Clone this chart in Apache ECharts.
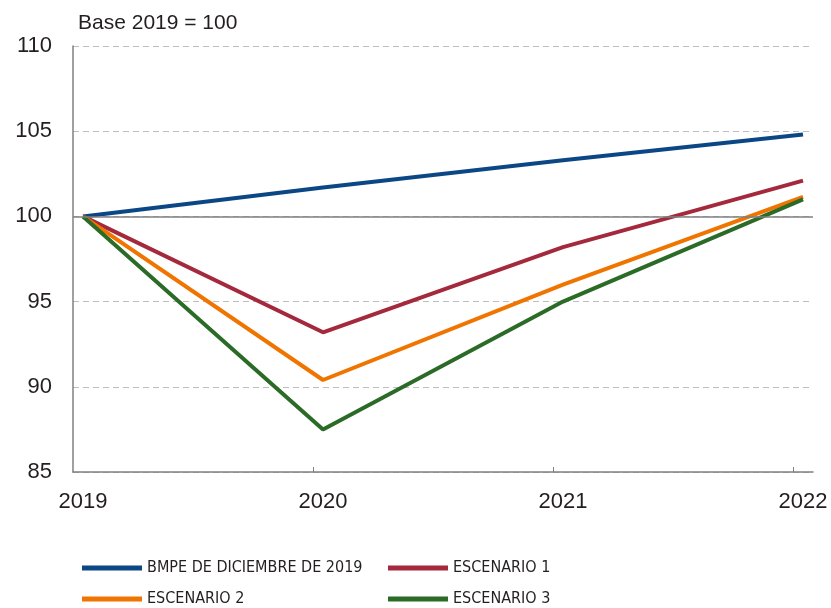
<!DOCTYPE html>
<html>
<head>
<meta charset="utf-8">
<script src="https://cdn.jsdelivr.net/npm/echarts@6/dist/echarts.min.js"></script>
<style>
  html, body { margin: 0; padding: 0; background: #fff; }
  #chart { width: 831px; height: 608px; }
</style>
</head>
<body>
<div id="chart"></div>
<script>
// datos (índice, base 2019 = 100)
const years = [2019, 2020, 2021, 2022];
const yTicks = [85, 90, 95, 100, 105, 110];
const bmpe = [100, 101.7, 103.3, 104.8];
const esc1 = [100, 93.2, 98.2, 102.1];
const esc2 = [100, 90.4, 96.0, 101.15];
const esc3 = [100, 87.5, 95.0, 101.0];

const names = ['BMPE DE DICIEMBRE DE 2019', 'ESCENARIO 1', 'ESCENARIO 2', 'ESCENARIO 3'];
const colors = ['#0b4785', '#a5293c', '#f07400', '#2b6b27'];

const textColor = '#231f20';
const axisGray = '#808080';
const legendFont = "'DejaVu Sans Condensed', 'Liberation Sans', sans-serif";

function pairs(vals) {
  return years.map((y, i) => [y, vals[i]]);
}

let myChart = echarts.init(document.getElementById('chart'));

// los ticks del eje x están desplazados ~10px a la izquierda de los años
let pad = 10 / 240;

function legendCol(left, data) {
  return {
    orient: 'vertical',
    left: left,
    top: 560,
    padding: 0,
    itemGap: 15,
    itemWidth: 60,
    itemHeight: 5,
    icon: 'rect',
    data: data,
    textStyle: {
      fontFamily: legendFont,
      fontSize: 16,
      lineHeight: 16,
      color: textColor
    }
  };
}

let option = {
  animation: false,
  backgroundColor: '#fff',
  title: {
    text: 'Base 2019 = 100',
    left: 73,
    top: 8,
    textStyle: {
      fontFamily: 'Liberation Sans',
      fontWeight: 'normal',
      fontSize: 21,
      color: textColor
    }
  },
  grid: {
    left: 73,
    right: 18,
    top: 46,
    bottom: 136
  },
  legend: [
    legendCol(82, [names[0], names[2]]),
    legendCol(388, [names[1], names[3]])
  ],
  xAxis: {
    type: 'value',
    min: years[0] - pad,
    max: years[years.length - 1] + pad,
    axisLine: {
      show: true,
      lineStyle: { color: axisGray, width: 1.5 }
    },
    axisTick: {
      show: true,
      inside: true,
      length: 5,
      customValues: years.slice(1).map(y => y - pad),
      lineStyle: { color: axisGray, width: 1 }
    },
    axisLabel: {
      customValues: years,
      margin: 19,
      fontFamily: 'Liberation Sans',
      fontSize: 22,
      color: textColor,
      formatter: v => String(Math.round(v))
    },
    splitLine: { show: false }
  },
  yAxis: {
    type: 'value',
    min: yTicks[0],
    max: yTicks[yTicks.length - 1],
    interval: 5,
    axisLine: {
      show: true,
      lineStyle: { color: axisGray, width: 1.5 }
    },
    axisTick: { show: false },
    axisLabel: {
      margin: 21,
      fontFamily: 'Liberation Sans',
      fontSize: 22,
      color: textColor
    },
    splitLine: {
      show: true,
      lineStyle: { color: '#bdbdbd', width: 1, type: [6, 4] }
    }
  },
  series: [
    {
      // línea de referencia en 100
      name: 'ref',
      type: 'line',
      data: [],
      z: 1,
      markLine: {
        silent: true,
        symbol: 'none',
        label: { show: false },
        lineStyle: { color: axisGray, width: 1.5, type: 'solid' },
        data: [{ yAxis: 100 }]
      }
    },
    ...[bmpe, esc1, esc2, esc3].map((vals, i) => ({
      name: names[i],
      type: 'line',
      data: pairs(vals),
      showSymbol: false,
      symbol: 'none',
      z: 3,
      itemStyle: { color: colors[i] },
      lineStyle: { color: colors[i], width: 4 }
    }))
  ]
};

myChart.setOption(option);
</script>
</body>
</html>
